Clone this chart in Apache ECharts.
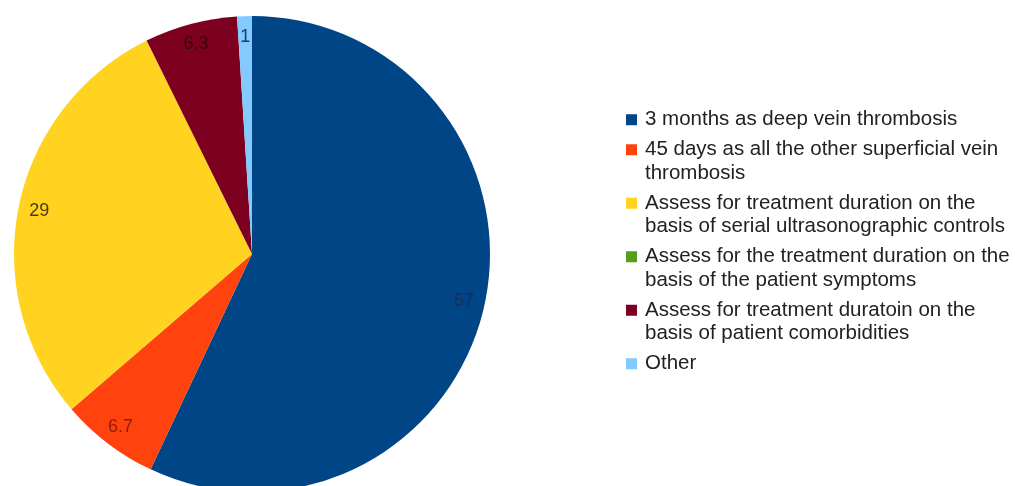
<!DOCTYPE html>
<html>
<head>
<meta charset="utf-8">
<script src="https://cdn.jsdelivr.net/npm/echarts@6/dist/echarts.min.js"></script>
<style>
  html, body { margin: 0; padding: 0; background: #ffffff; }
  #chart { width: 1015px; height: 486px; }
</style>
</head>
<body>
<div id="chart"></div>
<script>
// Recommended duration of anticoagulation for superficial vein thrombosis (% of answers)
var categories = [
  '3 months as deep vein thrombosis',
  '45 days as all the other superficial vein\nthrombosis',
  'Assess for treatment duration on the\nbasis of serial ultrasonographic controls',
  'Assess for the treatment duration on the\nbasis of the patient symptoms',
  'Assess for treatment duratoin on the\nbasis of patient comorbidities',
  'Other'
];
var values = [57, 6.7, 29, 0, 6.3, 1];
var sliceColors = ['#004586', '#ff420e', '#ffd320', '#579d1c', '#7e0021', '#83caff'];
var labelColors = ['#1b2c55', '#8c1d0e', '#4d3812', '#2e4a12', '#35060f', '#1e3a6c'];

var CX = 252, CY = 254, R = 238;
var LINE = 23.5;

var pieData = categories.map(function (name, i) {
  return { name: name, value: values[i], itemStyle: { color: sliceColors[i] } };
});

// Label ring: same values, transparent, so value labels sit near the rim
var labelData = categories.map(function (name, i) {
  return {
    name: name,
    value: values[i],
    itemStyle: { color: 'rgba(0,0,0,0)' },
    label: { show: values[i] > 0, color: labelColors[i] }
  };
});

var legendData = categories.map(function (name, i) {
  return { name: name, icon: 'rect', itemStyle: { color: sliceColors[i] } };
});

// Legend text is centred on the swatch, so blank lines are added around
// each entry (after the first) to keep the swatch beside the first line.
function legendText(name) {
  var i = categories.indexOf(name);
  if (i <= 0) return name;
  var lines = name.split('\n').length;
  return ' \n' + name + (lines === 1 ? '\n ' : '');
}

var chart = echarts.init(document.getElementById('chart'), null, { renderer: 'canvas' });
chart.setOption({
  animation: false,
  backgroundColor: '#ffffff',
  legend: {
    orient: 'vertical',
    left: 626,
    top: 108,
    padding: 0,
    itemWidth: 11,
    itemHeight: 11,
    itemGap: -17,
    data: legendData,
    selectedMode: false,
    formatter: legendText,
    textStyle: {
      fontFamily: 'Liberation Sans, Arial, sans-serif',
      fontSize: 20.5,
      lineHeight: LINE,
      padding: [0, 0, 0, 3],
      color: '#222222'
    }
  },
  series: [
    {
      type: 'pie',
      center: [CX, CY],
      radius: [0, R],
      startAngle: 90,
      clockwise: true,
      silent: true,
      label: { show: false },
      labelLine: { show: false },
      itemStyle: { borderWidth: 0 },
      data: pieData
    },
    {
      type: 'pie',
      center: [CX, CY],
      radius: [R * 0.8, R],
      startAngle: 90,
      clockwise: true,
      silent: true,
      legendHoverLink: false,
      label: {
        show: true,
        position: 'inside',
        formatter: function (p) { return String(p.value); },
        fontFamily: 'Liberation Sans, Arial, sans-serif',
        fontSize: 18
      },
      labelLine: { show: false },
      itemStyle: { borderWidth: 0 },
      data: labelData
    }
  ]
});
</script>
</body>
</html>
